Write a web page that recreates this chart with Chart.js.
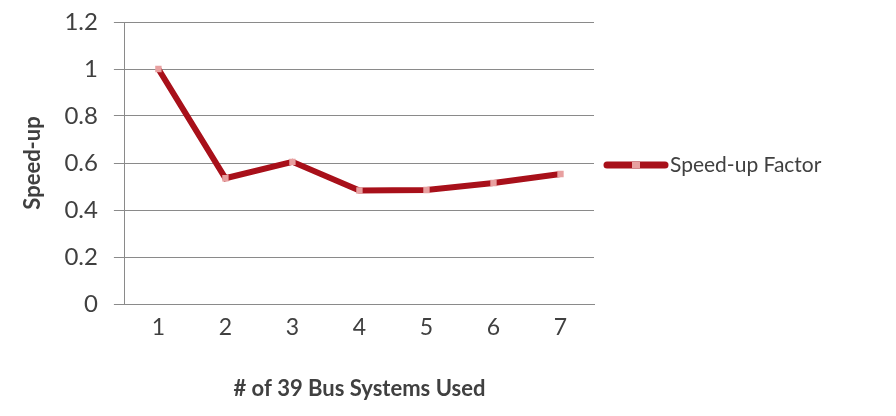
<!DOCTYPE html>
<html>
<head>
<meta charset="utf-8">
<script src="https://cdn.jsdelivr.net/npm/chart.js@4/dist/chart.umd.min.js"></script>
<style>
  html, body { margin: 0; padding: 0; background: #fff; }
  #wrap { width: 896px; height: 416px; }
</style>
</head>
<body>
<div id="wrap"><canvas id="speedChart" width="896" height="416"></canvas></div>
<script>
// データ
const systems = ["1", "2", "3", "4", "5", "6", "7"];
const speedUp = [1.0, 0.535, 0.605, 0.483, 0.485, 0.515, 0.553];
const seriesName = "Speed-up Factor";
const yTicks = [0, 0.2, 0.4, 0.6, 0.8, 1, 1.2];

const lineColor = "#a8101a";
const markColor = "#e8a0a0";
const textColor = "#404040";
const fontFamily = "Lato, 'Open Sans', sans-serif";

// 右側の凡例を自前で描く
const sideLegend = {
  id: "sideLegend",
  afterDraw(chart) {
    const { ctx, chartArea } = chart;
    const ds = chart.data.datasets[0];
    const y = (chartArea.top + chartArea.bottom) / 2 + 2;
    const x0 = chartArea.right + 13;
    const x1 = x0 + 58;
    ctx.save();
    ctx.strokeStyle = ds.borderColor;
    ctx.lineWidth = 7;
    ctx.lineCap = "round";
    ctx.beginPath();
    ctx.moveTo(x0, y);
    ctx.lineTo(x1, y);
    ctx.stroke();
    ctx.fillStyle = ds.pointBackgroundColor;
    ctx.fillRect((x0 + x1) / 2 - 4, y - 3, 8, 6);
    ctx.fillStyle = textColor;
    ctx.font = "21px " + fontFamily;
    ctx.textBaseline = "middle";
    ctx.fillText(ds.label, x1 + 5, y);
    ctx.restore();
  }
};

new Chart(document.getElementById("speedChart").getContext("2d"), {
  type: "line",
  data: {
    labels: systems,
    datasets: [{
      label: seriesName,
      data: speedUp,
      borderColor: lineColor,
      borderWidth: 6,
      tension: 0,
      pointStyle: "rect",
      pointRadius: 4.5,
      pointBackgroundColor: markColor,
      pointBorderWidth: 0,
      fill: false
    }]
  },
  options: {
    responsive: false,
    animation: false,
    layout: { padding: { top: 1, right: 302, bottom: 10, left: 16 } },
    plugins: {
      legend: { display: false },
      tooltip: { enabled: false }
    },
    scales: {
      x: {
        offset: true,
        grid: { display: false, drawTicks: false },
        border: { display: true, color: "#8a8a8a", width: 1 },
        ticks: { color: textColor, font: { family: fontFamily, size: 23 }, padding: 10 },
        title: {
          display: true,
          text: "# of 39 Bus Systems Used",
          color: textColor,
          font: { family: fontFamily, size: 22, weight: "bold" },
          padding: { top: 24 }
        }
      },
      y: {
        min: 0,
        max: 1.2,
        afterBuildTicks(axis) { axis.ticks = yTicks.map(v => ({ value: v })); },
        grid: { color: "#8a8a8a", lineWidth: 1, drawTicks: true, tickLength: 11 },
        border: { display: true, color: "#8a8a8a", width: 1 },
        ticks: {
          color: textColor,
          font: { family: fontFamily, size: 24, lineHeight: 0.5 },
          padding: 16,
          callback: v => String(v)
        },
        title: {
          display: true,
          text: "Speed-up",
          color: textColor,
          font: { family: fontFamily, size: 22, weight: "bold" },
          padding: { bottom: 2 }
        }
      }
    }
  },
  plugins: [sideLegend]
});
</script>
</body>
</html>
